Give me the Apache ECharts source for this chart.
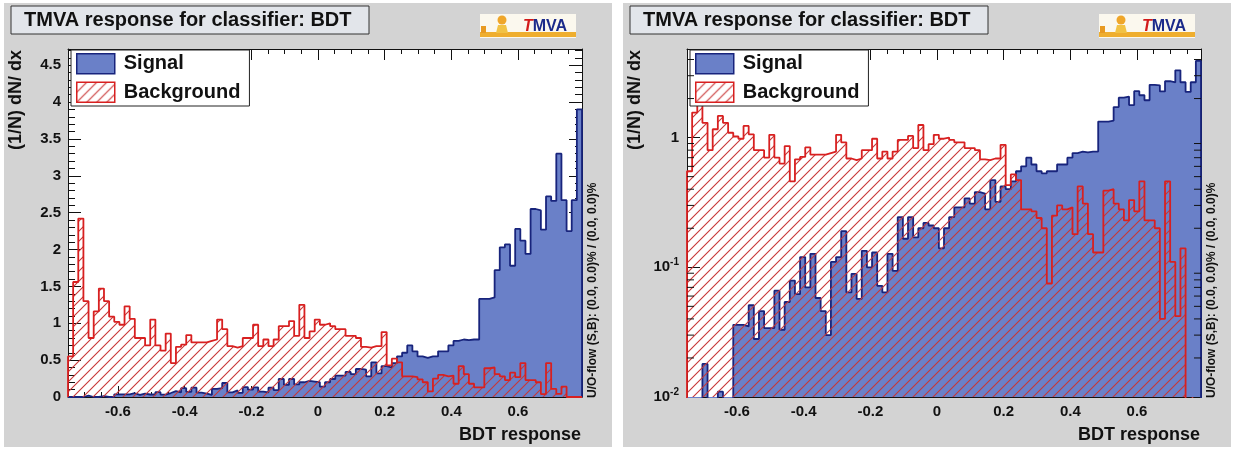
<!DOCTYPE html>
<html><head><meta charset="utf-8">
<script src="https://cdn.jsdelivr.net/npm/echarts@6/dist/echarts.min.js"></script>
<style>html,body{margin:0;padding:0;background:#fff}#c{width:1241px;height:451px}</style>
</head><body><div id="c"></div>
<script>
// ---- data ----
const binMin = -0.75, binMax = 0.792;   // histogram range (100 bins)
const signal = [0,0,0,0.018,0,0,0.011,0,0,
  0.036,0.036,0.035,0.051,0.028,0.046,0.034,0.034,0.066,0.033,0.054,
  0.079,0.062,0.12,0.07,0.127,0.058,0.046,0.030,0.11,0.12,
  0.19,0.064,0.089,0.057,0.134,0.10,0.13,0.072,0.064,0.127,
  0.094,0.244,0.166,0.244,0.17,0.20,0.22,0.21,0.20,0.14,
  0.20,0.244,0.29,0.29,0.34,0.31,0.38,0.37,0.28,0.47,
  0.32,0.42,0.40,0.46,0.55,0.60,0.70,0.62,0.55,0.53,
  0.55,0.55,0.62,0.62,0.70,0.76,0.78,0.77,0.78,0.78,
  1.33,1.33,1.35,1.72,2.03,2.07,1.78,2.28,2.12,1.94,
  2.55,2.53,2.27,2.72,2.66,3.30,2.67,2.25,2.67,3.90];
const background = [0.55,1.56,2.42,1.30,0.80,1.16,1.47,1.30,1.09,1.02,
  0.98,1.23,1.06,0.80,0.80,0.70,1.05,0.70,0.63,0.86,
  0.46,0.68,0.71,0.84,0.74,0.74,0.74,0.76,0.78,1.05,
  0.92,0.69,0.67,0.69,0.80,0.80,0.98,0.69,0.78,0.69,
  0.78,0.96,0.96,1.03,0.83,1.25,0.80,0.89,1.05,0.98,
  1.00,0.96,0.92,0.92,0.83,0.83,0.80,0.68,0.67,0.69,
  0.69,0.88,0.43,0.52,0.47,0.28,0.28,0.27,0.24,0.20,
  0.075,0.25,0.30,0.28,0.29,0.18,0.42,0.31,0.18,0.13,
  0.13,0.39,0.40,0.31,0.28,0.23,0.33,0.27,0.46,0.23,
  0.23,0.20,0.04,0.46,0.11,0.042,0.14,0,0,0];
const linYMax = 4.72;
const logYMin = 0.01, logYMax = 4.82;
const logMinorTicks = [0.02,0.03,0.04,0.05,0.06,0.07,0.08,0.09,0.2,0.3,0.4,0.5,0.6,0.7,0.8,0.9,2,3,4];
const titleText = 'TMVA response for classifier: BDT';
const xTitle = 'BDT response';
const yTitle = '(1/N) dN/ dx';
const flowText = 'U/O-flow (S,B): (0.0, 0.0)% / (0.0, 0.0)%';

// ---- helpers ----
const FONT = '"Liberation Sans", Arial, Helvetica, sans-serif';
const BLUE = '#6a80c8', NAVY = '#18247c', RED = '#d82020', INK = '#111';
const nBins = signal.length;
const bw = (binMax - binMin) / nBins;
const edges = Array.from({length: nBins + 1}, (_, i) => binMin + i * bw);
function stepData(vals, floor) {
  const d = [[edges[0], floor]];
  vals.forEach((v, i) => d.push([edges[i], v > 0 ? v : floor]));
  const last = vals[nBins - 1] > 0 ? vals[nBins - 1] : floor;
  d.push([edges[nBins], last]);
  d.push([edges[nBins], floor]);
  return d;
}
function makeHatch() {
  const c = document.createElement('canvas');
  c.width = 10; c.height = 10;
  const g = c.getContext('2d');
  g.strokeStyle = 'rgb(200,55,55)';
  g.lineWidth = 1.1;
  g.beginPath();
  g.moveTo(-1, 11); g.lineTo(11, -1);
  g.moveTo(-1, 1); g.lineTo(1, -1);
  g.moveTo(9, 11); g.lineTo(11, 9);
  g.stroke();
  return c;
}
const hatch = {image: makeHatch(), repeat: 'repeat'};

const chart = echarts.init(document.getElementById('c'), null, {renderer: 'canvas', width: 1241, height: 451});

const PL = 68, PT = 49, PW = 514, PH = 348;
const offsets = [0, 619];

const grid = offsets.map(ox => ({left: PL + ox, top: PT, width: PW, height: PH, show: false}));

const lineAx = {show: true, onZero: false, lineStyle: {color: INK, width: 1}};
const noLine = {show: false, onZero: false};
const labelStyle = {fontFamily: FONT, fontWeight: 'bold', fontSize: 15, color: INK};

const xAxis = [];
offsets.forEach((ox, g) => {
  ['bottom', 'top'].forEach(pos => {
    xAxis.push({gridIndex: g, type: 'value', position: pos, min: binMin, max: binMax,
      minInterval: 0.2, maxInterval: 0.2, axisLine: lineAx,
      axisTick: {inside: true, length: 11, lineStyle: {color: INK}},
      axisLabel: pos === 'bottom' ? Object.assign({show: true, margin: 7, showMinLabel: false, showMaxLabel: false}, labelStyle) : {show: false},
      splitLine: {show: false}});
    xAxis.push({gridIndex: g, type: 'value', position: pos, min: binMin, max: binMax,
      minInterval: 0.05, maxInterval: 0.05, axisLine: noLine,
      axisTick: {inside: true, length: 5, lineStyle: {color: INK}},
      axisLabel: {show: false}, splitLine: {show: false}});
  });
});
// x axes: grid0 -> 0..3, grid1 -> 4..7

function logFmt(v) {
  const l = Math.log10(v), e = Math.round(l);
  if (Math.abs(l - e) > 1e-6) return '';
  if (e === 0) return '{b|1}';
  return '{b|10}{s|' + e + '}';
}
const yAxis = [];
['left', 'right'].forEach(pos => {
  yAxis.push({gridIndex: 0, type: 'value', position: pos, min: 0, max: linYMax, interval: 0.5,
    axisLine: lineAx, axisTick: {inside: true, length: 13, lineStyle: {color: INK}},
    axisLabel: pos === 'left' ? Object.assign({show: true, margin: 7, showMaxLabel: false}, labelStyle) : {show: false},
    splitLine: {show: false}});
  yAxis.push({gridIndex: 0, type: 'value', position: pos, min: 0, max: linYMax, interval: 0.1,
    axisLine: noLine, axisTick: {inside: true, length: 7, lineStyle: {color: INK}},
    axisLabel: {show: false}, splitLine: {show: false}});
});
// y axes grid0: 0 left major,1 left minor,2 right major,3 right minor
['left', 'right'].forEach(pos => {
  yAxis.push({gridIndex: 1, type: 'log', logBase: 10, position: pos, min: logYMin, max: logYMax,
    axisLine: lineAx, axisTick: {inside: true, length: 13, lineStyle: {color: INK}},
    axisLabel: pos === 'left' ? {show: true, margin: 8, formatter: logFmt,
      rich: {b: {fontFamily: FONT, fontWeight: 'bold', fontSize: 15, color: INK},
             s: {fontFamily: FONT, fontWeight: 'bold', fontSize: 10, color: INK, padding: [0, 0, 10, 0]}}} : {show: false},
    splitLine: {show: false}, minorTick: {show: false}});
});
// y axes grid1: 4 left log, 5 right log

const series = [];
[[0, 0, 0], [1, 4, 4]].forEach(([g, xi, yi]) => {
  const floor = g === 0 ? 0 : 1e-4;
  series.push({name: 'Signal', type: 'line', xAxisIndex: xi, yAxisIndex: yi, step: 'end',
    data: stepData(signal, floor), symbol: 'none', z: 2,
    lineStyle: {color: NAVY, width: 1.8}, itemStyle: {color: BLUE},
    areaStyle: {color: BLUE, opacity: 1, origin: 'start'}});
  series.push({name: 'Background', type: 'line', xAxisIndex: xi, yAxisIndex: yi, step: 'end',
    data: stepData(background, floor), symbol: 'none', z: 3,
    lineStyle: {color: RED, width: 1.8}, itemStyle: {color: RED},
    areaStyle: {color: hatch, opacity: 1, origin: 'start'}});
});
series.push({type: 'custom', xAxisIndex: 4, yAxisIndex: 4, silent: true, z: 5, clip: false,
  data: logMinorTicks.map(v => [binMin, v]),
  encode: {x: 0, y: 1},
  renderItem: (params, api) => {
    const v = api.value(1);
    const a = api.coord([binMin, v]);
    const b = api.coord([binMax, v]);
    return {type: 'group', children: [
      {type: 'line', shape: {x1: a[0], y1: a[1], x2: a[0] + 7, y2: a[1]}, style: {stroke: INK, lineWidth: 1}},
      {type: 'line', shape: {x1: b[0] - 7, y1: b[1], x2: b[0], y2: b[1]}, style: {stroke: INK, lineWidth: 1}}
    ]};
  }});

const legend = offsets.map(ox => ({
  left: PL + 3 + ox, top: 50, orient: 'vertical', selectedMode: false,
  itemWidth: 38, itemHeight: 20, itemGap: 7,
  backgroundColor: '#fff', borderColor: '#222', borderWidth: 1, borderRadius: 0,
  padding: [3, 9, 3, 5],
  textStyle: {fontFamily: FONT, fontWeight: 'bold', fontSize: 20, color: INK, padding: [0, 0, 0, 4]},
  data: [
    {name: 'Signal', icon: 'rect', itemStyle: {color: BLUE, borderColor: NAVY, borderWidth: 1.5}},
    {name: 'Background', icon: 'rect', itemStyle: {color: hatch, borderColor: RED, borderWidth: 1.5}}
  ]
}));

const graphic = [];
offsets.forEach(ox => {
  graphic.push({type: 'rect', z: -10, shape: {x: 4 + ox, y: 3, width: 608, height: 444}, style: {fill: '#d3d3d3'}});
  graphic.push({type: 'rect', z: -9, shape: {x: PL + ox, y: PT, width: PW, height: PH}, style: {fill: '#fff'}});
  // title box
  graphic.push({type: 'rect', z: 10, shape: {x: 11 + ox, y: 6, width: 358, height: 28},
    style: {fill: '#e2e5ea', stroke: '#333', lineWidth: 1}});
  graphic.push({type: 'text', z: 11, x: 24 + ox, y: 20,
    style: {text: titleText, fontFamily: FONT, fontWeight: 'bold', fontSize: 20, fill: INK, textVerticalAlign: 'middle'}});
  // TMVA logo
  graphic.push({type: 'group', z: 10, x: 480 + ox, y: 14, children: [
    {type: 'rect', shape: {x: 0, y: 0, width: 96, height: 24}, style: {fill: '#fbf8ee'}},
    {type: 'rect', shape: {x: 0, y: 18, width: 96, height: 5}, style: {fill: '#efae2e'}},
    {type: 'rect', shape: {x: 1, y: 12, width: 5, height: 7}, style: {fill: '#e89a22'}},
    {type: 'circle', shape: {cx: 22, cy: 6, r: 4.5}, style: {fill: '#efa62a'}},
    {type: 'polygon', shape: {points: [[16, 19], [18, 11], [26, 11], [28, 19]]}, style: {fill: '#f2c244'}},
    {type: 'text', x: 43, y: 13, style: {text: '{t|T}{m|MVA}', textVerticalAlign: 'middle',
      rich: {t: {fontFamily: FONT, fontWeight: 'bold', fontStyle: 'italic', fontSize: 16, fill: '#d21a1a', color: '#d21a1a'},
             m: {fontFamily: FONT, fontWeight: 'bold', fontSize: 16, fill: '#1b2a8a', color: '#1b2a8a'}}}}
  ]});
  // axis titles
  graphic.push({type: 'text', z: 11, x: 16 + ox, y: 50, rotation: Math.PI / 2,
    style: {text: yTitle, fontFamily: FONT, fontWeight: 'bold', fontSize: 18, fill: INK, textAlign: 'right', textVerticalAlign: 'middle'}});
  graphic.push({type: 'text', z: 11, x: 581 + ox, y: 435,
    style: {text: xTitle, fontFamily: FONT, fontWeight: 'bold', fontSize: 18, fill: INK, textAlign: 'right', textVerticalAlign: 'middle'}});
  graphic.push({type: 'text', z: 11, x: 593 + ox, y: 398, rotation: Math.PI / 2,
    style: {text: flowText, fontFamily: FONT, fontWeight: 'bold', fontSize: 12, fill: INK, textAlign: 'left', textVerticalAlign: 'middle'}});
});

chart.setOption({
  animation: false,
  backgroundColor: '#fff',
  grid, xAxis, yAxis, series, legend, graphic
});
</script>
</body></html>
